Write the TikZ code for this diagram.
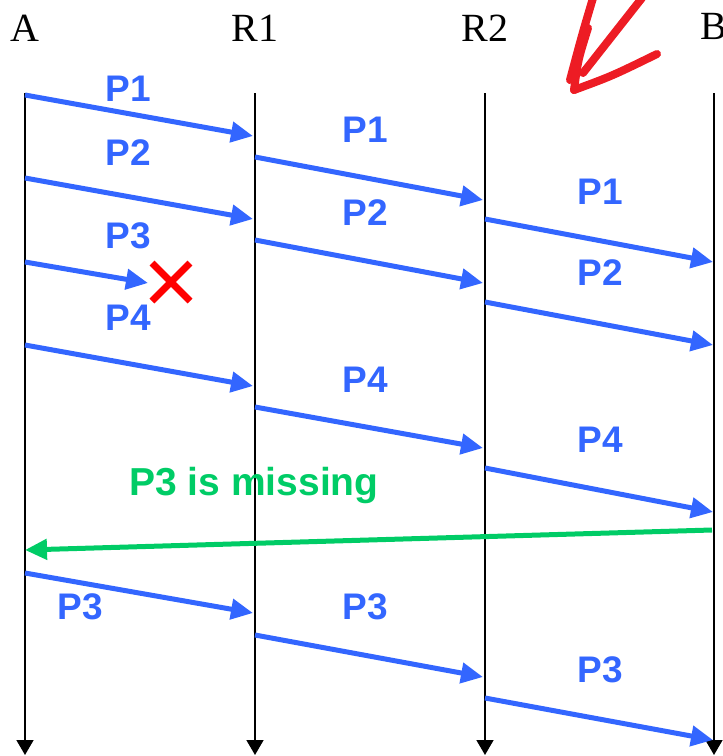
\documentclass[tikz,border=0pt]{standalone}
\usepackage{fontspec}
\setmainfont{Liberation Serif}
\newfontfamily\pktfont{Liberation Sans}
\usetikzlibrary{arrows.meta,positioning,calc}
\definecolor{pktBlue}{RGB}{51,102,255}
\definecolor{ackGreen}{RGB}{0,204,102}
\definecolor{lossRed}{RGB}{255,0,0}
\definecolor{penRed}{RGB}{237,28,36}

\begin{document}
\begin{tikzpicture}[x=1pt, y=-1pt,
    host/.style={inner sep=0pt, font=\fontsize{40}{40}\selectfont},
    lifeline/.style={line width=1.6pt, -{Triangle[length=15pt,width=17pt]}},
    pkt/.style={pktBlue, line width=5pt, -{Triangle[length=22pt,width=20pt]}},
    ack/.style={ackGreen, line width=5pt, -{Triangle[length=22pt,width=20pt]}},
    plabel/.style={inner sep=0pt, text=pktBlue, font=\pktfont\bfseries\fontsize{37}{37}\selectfont}
  ]
  \useasboundingbox (0,0) rectangle (723,756);

  % hosts and routers
  \node[host] (A)  at (25,28)  {A};
  \node[host] (R1) at (255,28) {R1};
  \node[host] (R2) at (485,28) {R2};
  \node[host, anchor=west] (B) at (700,26) {B};
  \foreach \h/\x in {A/25, R1/255, R2/485, B/714} {
    \coordinate (\h top) at (\x,93);
    \coordinate (\h bot) at (\x,755);
    \draw[lifeline] (\h top) -- (\h bot);
  }

  % first hop A -> R1
  \coordinate (a1) at (25,95);   \coordinate (r1a) at (253,136);
  \coordinate (a2) at (25,178);  \coordinate (r1b) at (253,219);
  \coordinate (a3) at (25,262);  \coordinate (lost) at (148,283);
  \coordinate (a4) at (25,345);  \coordinate (r1d) at (253,386);
  \draw[pkt] (a1) -- (r1a);
  \draw[pkt] (a2) -- (r1b);
  \draw[pkt] (a3) -- (lost);
  \draw[pkt] (a4) -- (r1d);
  \node[plabel] (lp1a) at (128,89)  {P1};
  \node[plabel] (lp2a) at (128,153) {P2};
  \node[plabel] (lp3a) at (128,236) {P3};
  \node[plabel] (lp4a) at (128,318) {P4};

  % packet lost
  \coordinate (x) at (171,282);
  \draw[lossRed, line width=7pt] ($(x)+(-19,-19)$) -- ($(x)+(19,19)$)
                                 ($(x)+(-19,19)$) -- ($(x)+(19,-19)$);

  % second hop R1 -> R2
  \coordinate (r1p1) at (255,157); \coordinate (r2a) at (483,200);
  \coordinate (r1p2) at (255,240); \coordinate (r2b) at (483,283);
  \coordinate (r1p4) at (255,407); \coordinate (r2d) at (483,448);
  \draw[pkt] (r1p1) -- (r2a);
  \draw[pkt] (r1p2) -- (r2b);
  \draw[pkt] (r1p4) -- (r2d);
  \node[plabel] (lp1b) at (365,130) {P1};
  \node[plabel] (lp2b) at (365,213) {P2};
  \node[plabel] (lp4b) at (365,380) {P4};

  % third hop R2 -> B
  \coordinate (r2p1) at (485,219); \coordinate (ba) at (713,262);
  \coordinate (r2p2) at (485,302); \coordinate (bb) at (713,345);
  \coordinate (r2p4) at (485,468); \coordinate (bd) at (713,512);
  \draw[pkt] (r2p1) -- (ba);
  \draw[pkt] (r2p2) -- (bb);
  \draw[pkt] (r2p4) -- (bd);
  \node[plabel] (lp1c) at (600,192) {P1};
  \node[plabel] (lp2c) at (600,273) {P2};
  \node[plabel] (lp4c) at (600,440) {P4};

  % notice back to A
  \coordinate (bn) at (712,530); \coordinate (an) at (25,550);
  \draw[ack] (bn) -- (an);
  \node[plabel, text=ackGreen, font=\pktfont\bfseries\fontsize{39}{39}\selectfont]
    (miss) at (254,485) {P3 is missing};

  % P3 again
  \coordinate (a5) at (25,573);    \coordinate (r1e) at (253,613);
  \coordinate (r1p3) at (255,635); \coordinate (r2e) at (483,677);
  \coordinate (r2p3) at (485,698); \coordinate (be) at (713,740);
  \draw[pkt] (a5) -- (r1e);
  \draw[pkt] (r1p3) -- (r2e);
  \draw[pkt] (r2p3) -- (be);
  \node[plabel] (lp3d) at (80,607)  {P3};
  \node[plabel] (lp3e) at (365,607) {P3};
  \node[plabel] (lp3f) at (600,670) {P3};

  % red pen mark
  \draw[penRed, line width=8pt, line cap=round, line join=round]
    (593,-2) .. controls (582,35) .. (570,80)
    (588,28) .. controls (578,60) .. (574,90);
  \draw[penRed, line width=8pt, line cap=round]
    (642,-2) -- (583,73);
  \draw[penRed, line width=8pt, line cap=round, line join=round]
    (574,90) .. controls (612,76) .. (657,54);
\end{tikzpicture}
\end{document}
